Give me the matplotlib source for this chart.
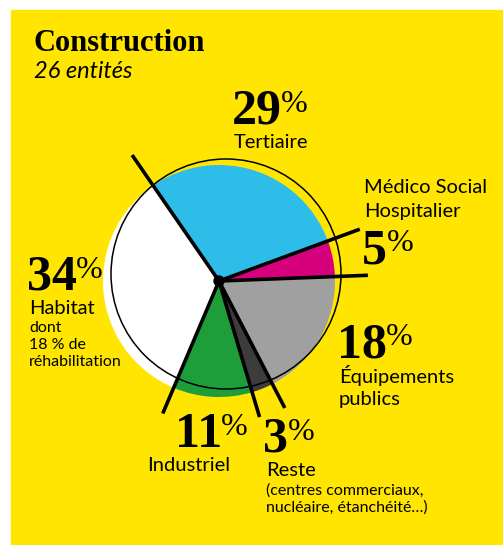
import matplotlib.pyplot as plt
import numpy as np
from matplotlib.patches import Rectangle, Circle

W, H = 503, 545

labels = ["Tertiaire", "Médico Social\nHospitalier", "Équipements\npublics",
          "Reste", "Industriel", "Habitat"]
shares = [29, 5, 18, 3, 11, 34]
colors = ["#2DBDE8", "#D6007F", "#A0A0A0", "#3C3C3C", "#1E9E3A", "#FFFFFF"]
yellow = "#FFE500"

sans = "Lato"
serif = "Liberation Serif"


def Y(py):
    return H - py


fig = plt.figure(figsize=(W / 100, H / 100), dpi=100)
ax = fig.add_axes([0, 0, 1, 1])

ax.add_patch(Rectangle((11, 0), W - 11, H - 10, color=yellow, zorder=0))

# pie
center = (219, Y(281))
start = 124.6
ax.pie(shares, colors=colors, startangle=start, counterclock=False,
       center=center, radius=116, frame=True,
       wedgeprops=dict(linewidth=0))
ax.set_xlim(0, W)
ax.set_ylim(0, H)
ax.set_aspect("equal")
ax.axis("off")

# thin offset outline
ax.add_patch(Circle((226, Y(274)), 115, fill=False, ec="black", lw=1.1, zorder=3))

# separating spokes
bounds = start - 360 * np.concatenate([[0], np.cumsum(shares)[:-1]]) / 100
spoke_len = [153, 150, 149, 143, 142, 144]
for a, L in zip(bounds, spoke_len):
    t = np.deg2rad(a)
    ax.plot([center[0], center[0] + L * np.cos(t)],
            [center[1], center[1] + L * np.sin(t)],
            color="black", lw=2.6, solid_capstyle="butt", zorder=4)
ax.add_patch(Circle(center, 5, color="black", zorder=5))

# title
ax.text(34, Y(51), "Construction", fontsize=22, fontweight="bold",
        family=serif, va="baseline")
ax.text(34, Y(78), "26 entités", fontsize=17, style="italic",
        family=sans, va="baseline")


def big_pct(x, py, value):
    t = ax.text(x, Y(py), str(value), fontsize=36, fontweight="bold",
                family=serif, va="baseline", zorder=6)
    ax.annotate("%", xy=(0.98, 0.97), xycoords=t, fontsize=23, family=serif,
                va="top", ha="left", zorder=6)


def lab(x, py, s, size=14.5):
    ax.text(x, Y(py), s, fontsize=size, family=sans, va="baseline", zorder=6)


big_pct(232, 124, shares[0])
lab(234, 148, labels[0])

lab(364, 193, "Médico Social")
lab(364, 217, "Hospitalier")
big_pct(362, 263, shares[1])

big_pct(337, 357, shares[2])
lab(339, 383, "Équipements")
lab(339, 405, "publics")

big_pct(263, 452, shares[3])
lab(266, 476, labels[3])
lab(266, 495, "(centres commerciaux,", size=11.5)
lab(266, 512, "nucléaire, étanchéité…)", size=11.5)

big_pct(175, 447, shares[4])
lab(147, 471, labels[4])

big_pct(27, 290, shares[5])
lab(29, 314, labels[5])
lab(29, 332, "dont", size=11.5)
lab(29, 349, "18 % de", size=11.5)
lab(29, 366, "réhabilitation", size=11.5)

fig.savefig("out.png", dpi=100, facecolor="white")
